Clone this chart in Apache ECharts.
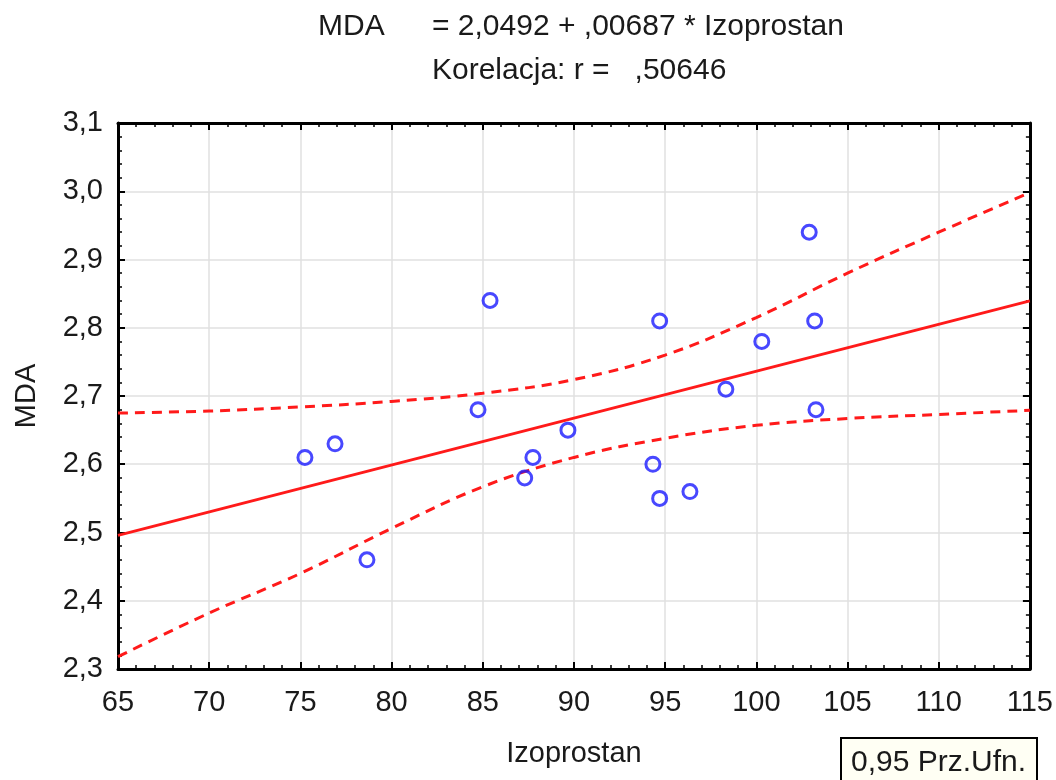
<!DOCTYPE html>
<html>
<head>
<meta charset="utf-8">
<script src="https://cdn.jsdelivr.net/npm/echarts@6/dist/echarts.min.js"></script>
<style>
  html, body { margin: 0; padding: 0; background: #ffffff; }
  #chart { width: 1056px; height: 780px; }
</style>
</head>
<body>
<div id="chart"></div>
<script>
// Observations: Izoprostan (x) vs MDA (y)
const izoprostan = [75.25, 76.9, 78.65, 84.74, 85.4, 87.3, 87.75, 89.67, 94.33, 94.7, 94.7, 96.36, 98.33, 100.3, 102.9, 103.2, 103.27];
const mda        = [2.61, 2.63, 2.46, 2.68, 2.84, 2.58, 2.61, 2.65, 2.60, 2.81, 2.55, 2.56, 2.71, 2.78, 2.94, 2.81, 2.68];

// Fitted line: MDA = 2,0492 + ,00687 * Izoprostan
const intercept = 2.0492;
const slope = 0.00687;
const correlation = 0.50646;

// 95% confidence band around the fitted line
const bandX     = [65, 70, 75, 80, 85, 90, 95, 100, 105, 110, 115];
const bandUpper = [2.675, 2.678, 2.684, 2.692, 2.704, 2.724, 2.760, 2.815, 2.880, 2.940, 2.998];
const bandLower = [2.318, 2.382, 2.440, 2.506, 2.567, 2.610, 2.638, 2.657, 2.667, 2.673, 2.679];

const xMin = 65, xMax = 115, xStep = 5;
const yMin = 2.3, yMax = 3.1, yStep = 0.1;

const fmtComma = (v, d) => v.toFixed(d).replace('.', ',');
const fmtNoLead = (v, d) => fmtComma(v, d).replace(/^0/, '');

const FONT = '"Liberation Sans", Arial, sans-serif';
const TXT = '#1a1a1a';
const RED = '#ff1a1a';
const BLUE = '#1a1aff';

const chart = echarts.init(document.getElementById('chart'), null, { renderer: 'canvas' });

const frameAxisLine = { show: true, onZero: false, lineStyle: { color: '#000', width: 3 } };
const tickIn = { show: true, inside: true, length: 7, lineStyle: { color: '#000', width: 2 } };
const minorIn = { show: true, splitNumber: 5, length: 4, lineStyle: { color: '#000', width: 1.5 } };

const fitLine = [xMin, xMax].map(x => [x, intercept + slope * x]);

chart.setOption({
  animation: false,
  backgroundColor: '#ffffff',
  grid: { left: 118, right: 26, top: 123, bottom: 111, containLabel: false },
  xAxis: [
    {
      type: 'value', min: xMin, max: xMax, interval: xStep, position: 'bottom',
      axisLine: frameAxisLine, axisTick: tickIn, minorTick: minorIn,
      splitLine: { show: true, lineStyle: { color: '#e0e0e0', width: 1.5 } },
      axisLabel: { color: TXT, fontFamily: FONT, fontSize: 29, margin: 19, formatter: v => String(v) },
      name: 'Izoprostan', nameLocation: 'middle', nameGap: 70,
      nameTextStyle: { color: TXT, fontFamily: FONT, fontSize: 29 }
    },
    {
      type: 'value', min: xMin, max: xMax, interval: xStep, position: 'top',
      axisLine: frameAxisLine, axisTick: tickIn, minorTick: minorIn,
      splitLine: { show: false }, axisLabel: { show: false }
    }
  ],
  yAxis: [
    {
      type: 'value', min: yMin, max: yMax, interval: yStep, position: 'left',
      axisLine: frameAxisLine, axisTick: tickIn, minorTick: minorIn,
      splitLine: { show: true, lineStyle: { color: '#e0e0e0', width: 1.5 } },
      axisLabel: { color: TXT, fontFamily: FONT, fontSize: 29, margin: 15, formatter: v => fmtComma(v, 1) },
      name: 'MDA', nameLocation: 'middle', nameGap: 77, nameRotate: 90,
      nameTextStyle: { color: TXT, fontFamily: FONT, fontSize: 29 }
    },
    {
      type: 'value', min: yMin, max: yMax, interval: yStep, position: 'right',
      axisLine: frameAxisLine, axisTick: tickIn, minorTick: minorIn,
      splitLine: { show: false }, axisLabel: { show: false }
    }
  ],
  series: [
    {
      name: 'upper', type: 'line', smooth: 0.4, symbol: 'none', silent: true,
      data: bandX.map((x, i) => [x, bandUpper[i]]),
      lineStyle: { color: RED, width: 3, type: [10, 7] }
    },
    {
      name: 'lower', type: 'line', smooth: 0.4, symbol: 'none', silent: true,
      data: bandX.map((x, i) => [x, bandLower[i]]),
      lineStyle: { color: RED, width: 3, type: [10, 7] }
    },
    {
      name: 'fit', type: 'line', symbol: 'none', silent: true,
      data: fitLine,
      lineStyle: { color: RED, width: 2.8 }
    },
    {
      name: 'points', type: 'scatter', symbol: 'circle', symbolSize: 14,
      data: izoprostan.map((x, i) => [x, mda[i]]),
      itemStyle: { color: 'rgba(255,255,255,0)', borderColor: BLUE, borderWidth: 3 },
      z: 5
    }
  ],
  graphic: [
    { type: 'text', left: 318, top: 12,
      style: { text: 'MDA', fill: TXT, font: '30px ' + FONT } },
    { type: 'text', left: 432, top: 12,
      style: { text: '= ' + fmtComma(intercept, 4) + ' + ' + fmtNoLead(slope, 5) + ' * Izoprostan', fill: TXT, font: '30px ' + FONT } },
    { type: 'text', left: 432, top: 56,
      style: { text: 'Korelacja: r =   ' + fmtNoLead(correlation, 5), fill: TXT, font: '30px ' + FONT } },
    { type: 'group', left: 840, top: 737, children: [
      { type: 'rect', shape: { x: 0, y: 0, width: 196, height: 50 },
        style: { fill: '#fffff4', stroke: '#000', lineWidth: 2 } },
      { type: 'text', x: 10, y: 10,
        style: { text: '0,95 Prz.Ufn.', fill: TXT, font: '30px ' + FONT } }
    ] }
  ]
});
</script>
</body>
</html>
